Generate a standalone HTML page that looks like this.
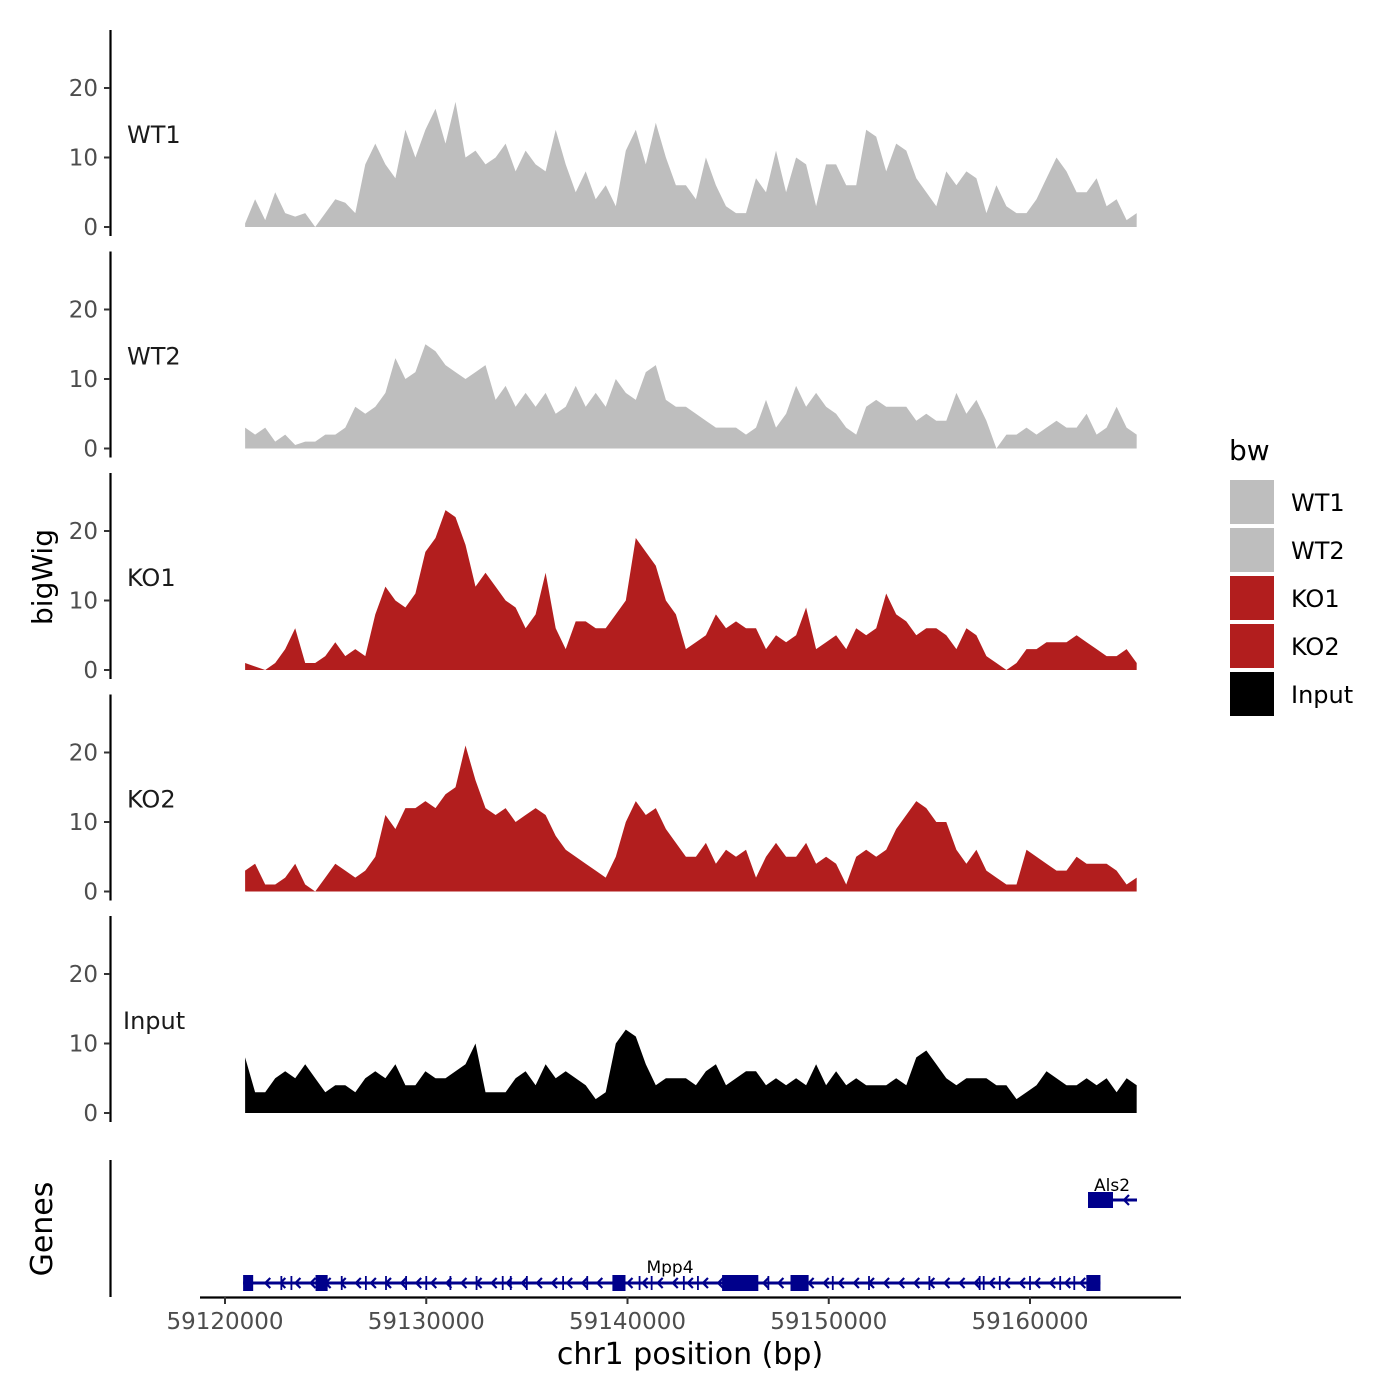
<!DOCTYPE html>
<html><head><meta charset="utf-8"><style>
body{margin:0;background:#fff;width:1400px;height:1400px;overflow:hidden}
svg{display:block;font-family:"DejaVu Sans","Liberation Sans",sans-serif}
</style></head><body>
<svg id="chart" width="1400" height="1400" viewBox="0 0 1400 1400"></svg>
<script>
const bpStart = 59121000;
const bpEnd = 59165300;
const trackNames = ["WT1","WT2","KO1","KO2","Input"];
const trackColors = ["#bebebe","#bebebe","#b21e1e","#b21e1e","#000000"];
const yTicks = [0,10,20];
const xTicks = [59120000,59130000,59140000,59150000,59160000];
const wt1 = [0.5,4,1,5,2,1.5,2,0,2,4,3.5,2,9,12,9,7,14,10,14,17,12,18,10,11,9,10,12,8,11,9,8,14,9,5,8,4,6,3,11,14,9,15,10,6,6,4,10,6,3,2,2,7,5,11,5,10,9,3,9,9,6,6,14,13,8,12,11,7,5,3,8,6,8,7,2,6,3,2,2,4,7,10,8,5,5,7,3,4,1,2];
const wt2 = [3,2,3,1,2,0.5,1,1,2,2,3,6,5,6,8,13,10,11,15,14,12,11,10,11,12,7,9,6,8,6,8,5,6,9,6,8,6,10,8,7,11,12,7,6,6,5,4,3,3,3,2,3,7,3,5,9,6,8,6,5,3,2,6,7,6,6,6,4,5,4,4,8,5,7,4,0,2,2,3,2,3,4,3,3,5,2,3,6,3,2];
const ko1 = [1,0.5,0,1,3,6,1,1,2,4,2,3,2,8,12,10,9,11,17,19,23,22,18,12,14,12,10,9,6,8,14,6,3,7,7,6,6,8,10,19,17,15,10,8,3,4,5,8,6,7,6,6,3,5,4,5,9,3,4,5,3,6,5,6,11,8,7,5,6,6,5,3,6,5,2,1,0,1,3,3,4,4,4,5,4,3,2,2,3,1];
const ko2 = [3,4,1,1,2,4,1,0,2,4,3,2,3,5,11,9,12,12,13,12,14,15,21,16,12,11,12,10,11,12,11,8,6,5,4,3,2,5,10,13,11,12,9,7,5,5,7,4,6,5,6,2,5,7,5,5,7,4,5,4,1,5,6,5,6,9,11,13,12,10,10,6,4,6,3,2,1,1,6,5,4,3,3,5,4,4,4,3,1,2];
const inputSeries = [8,3,3,5,6,5,7,5,3,4,4,3,5,6,5,7,4,4,6,5,5,6,7,10,3,3,3,5,6,4,7,5,6,5,4,2,3,10,12,11,7,4,5,5,5,4,6,7,4,5,6,6,4,5,4,5,4,7,4,6,4,5,4,4,4,5,4,8,9,7,5,4,5,5,5,4,4,2,3,4,6,5,4,4,5,4,5,3,5,4];
const seriesList = [wt1,wt2,ko1,ko2,inputSeries];
const mpp4Big = [[59120900,59121400],[59124500,59125100],[59139250,59139900],[59144700,59146500],[59148100,59149000],[59162800,59163500]];
const mpp4Thin = [59122800,59123300,59125800,59127000,59128000,59129000,59130000,59131200,59132500,59133800,59134200,59135000,59136800,59138000,59140600,59141200,59142800,59143500,59147000,59150200,59152000,59155000,59157500,59157700,59158500,59160000,59161500,59162200];

const svg = document.getElementById('chart');
const NS = 'http://www.w3.org/2000/svg';
function mk(tag, attrs, parent){const e=document.createElementNS(NS,tag);for(const k in attrs)e.setAttribute(k,attrs[k]);(parent||svg).appendChild(e);return e;}
const xScale = bp => 225 + (bp - 59120000) * (805/40000);
const panelTop0 = 227, panelStep = 221.5, pxPerUnit = 6.95;

trackNames.forEach((name, t) => {
  const base = panelTop0 + t*panelStep;
  const yScale = v => base - v*pxPerUnit;
  const g = mk('g', {});
  
  
  const axis = mk('line', {x1:110.5,x2:110.5,y1:base-197,y2:base+9,stroke:'#000','stroke-width':2.2}, g);
  
  
  yTicks.forEach(v => {
    mk('line',{x1:104,x2:110,y1:yScale(v),y2:yScale(v),stroke:'#333','stroke-width':2},g);
    const tl = mk('text',{x:98,y:yScale(v)+8,'text-anchor':'end','font-size':23,fill:'#4d4d4d'},g);
    tl.textContent = v;
    
    
  });
  const lbl = mk('text',{x:name==='Input'?123:127,y:base-84,'font-size':24,fill:'#1a1a1a'},g);
  lbl.textContent = name;
  
  
  const vals = seriesList[t];
  const step = (bpEnd - bpStart)/(vals.length-1);
  let d = 'M' + xScale(bpStart) + ',' + base;
  vals.forEach((v,i) => { d += ' L' + xScale(bpStart + i*step).toFixed(1) + ',' + yScale(v).toFixed(1); });
  d += ' L' + xScale(bpEnd) + ',' + base + ' Z';
  const area = mk('path',{d:d,fill:trackColors[t]},g);
  
  
});

const yt = mk('text',{x:0,y:0,'font-size':28,fill:'#000','text-anchor':'middle',transform:'translate(52,577) rotate(-90)'});
yt.textContent = 'bigWig';



const gg = mk('g',{});


mk('line',{x1:110.5,x2:110.5,y1:1160,y2:1297,stroke:'#000','stroke-width':2.2},gg);
mk('line',{x1:200,x2:1181,y1:1297.5,y2:1297.5,stroke:'#000','stroke-width':2.2},gg);
const gt = mk('text',{x:0,y:0,'font-size':30,fill:'#000','text-anchor':'middle',transform:'translate(52,1229) rotate(-90)'},gg);
gt.textContent = 'Genes';


xTicks.forEach(v => {
  const x = xScale(v);
  mk('line',{x1:x,x2:x,y1:1297,y2:1304,stroke:'#333','stroke-width':2},gg);
  const tl = mk('text',{x:x,y:1329,'text-anchor':'middle','font-size':23,fill:'#4d4d4d'},gg);
  tl.textContent = v;
  
  
});
const xt = mk('text',{x:690,y:1364,'text-anchor':'middle','font-size':30,fill:'#000'},gg);
xt.textContent = 'chr1 position (bp)';



const blue = '#00008b';
const mg = mk('g',{},gg);


mk('line',{x1:xScale(59120900),x2:xScale(59163500),y1:1283,y2:1283,stroke:blue,'stroke-width':3},mg);
for (let bp=59122000; bp<59163000; bp+=750) {
  const x = xScale(bp);
  mk('polyline',{points:(x+5)+',1278 '+x+',1283 '+(x+5)+',1288',fill:'none',stroke:blue,'stroke-width':2.2},mg);
}
mpp4Thin.forEach(bp => { const x=xScale(bp); mk('line',{x1:x,x2:x,y1:1276,y2:1290,stroke:blue,'stroke-width':1.8},mg); });
mpp4Big.forEach(r => mk('rect',{x:xScale(r[0]),y:1275,width:xScale(r[1])-xScale(r[0]),height:16,fill:blue},mg));
const ml = mk('text',{x:670,y:1273,'text-anchor':'middle','font-size':17,fill:'#000'},mg);
ml.textContent = 'Mpp4';
const ag = mk('g',{},gg);


mk('line',{x1:1088,x2:1137,y1:1200,y2:1200,stroke:blue,'stroke-width':3},ag);
mk('rect',{x:1088,y:1192,width:25,height:16,fill:blue},ag);
mk('polyline',{points:'1129,1195 1124,1200 1129,1205',fill:'none',stroke:blue,'stroke-width':2.2},ag);
const al = mk('text',{x:1112,y:1191,'text-anchor':'middle','font-size':17,fill:'#000'},ag);
al.textContent = 'Als2';

const lg = mk('g',{});


const lt = mk('text',{x:1229,y:460,'font-size':28,fill:'#000'},lg);
lt.textContent = 'bw';
trackNames.forEach((name,i) => {
  const e = mk('g',{},lg);
  
  
  mk('rect',{x:1230,y:480+i*48,width:44,height:44,fill:trackColors[i]},e);
  const tx = mk('text',{x:1291,y:511+i*48,'font-size':24,fill:'#000'},e);
  tx.textContent = name;
});
</script>
</body></html>
